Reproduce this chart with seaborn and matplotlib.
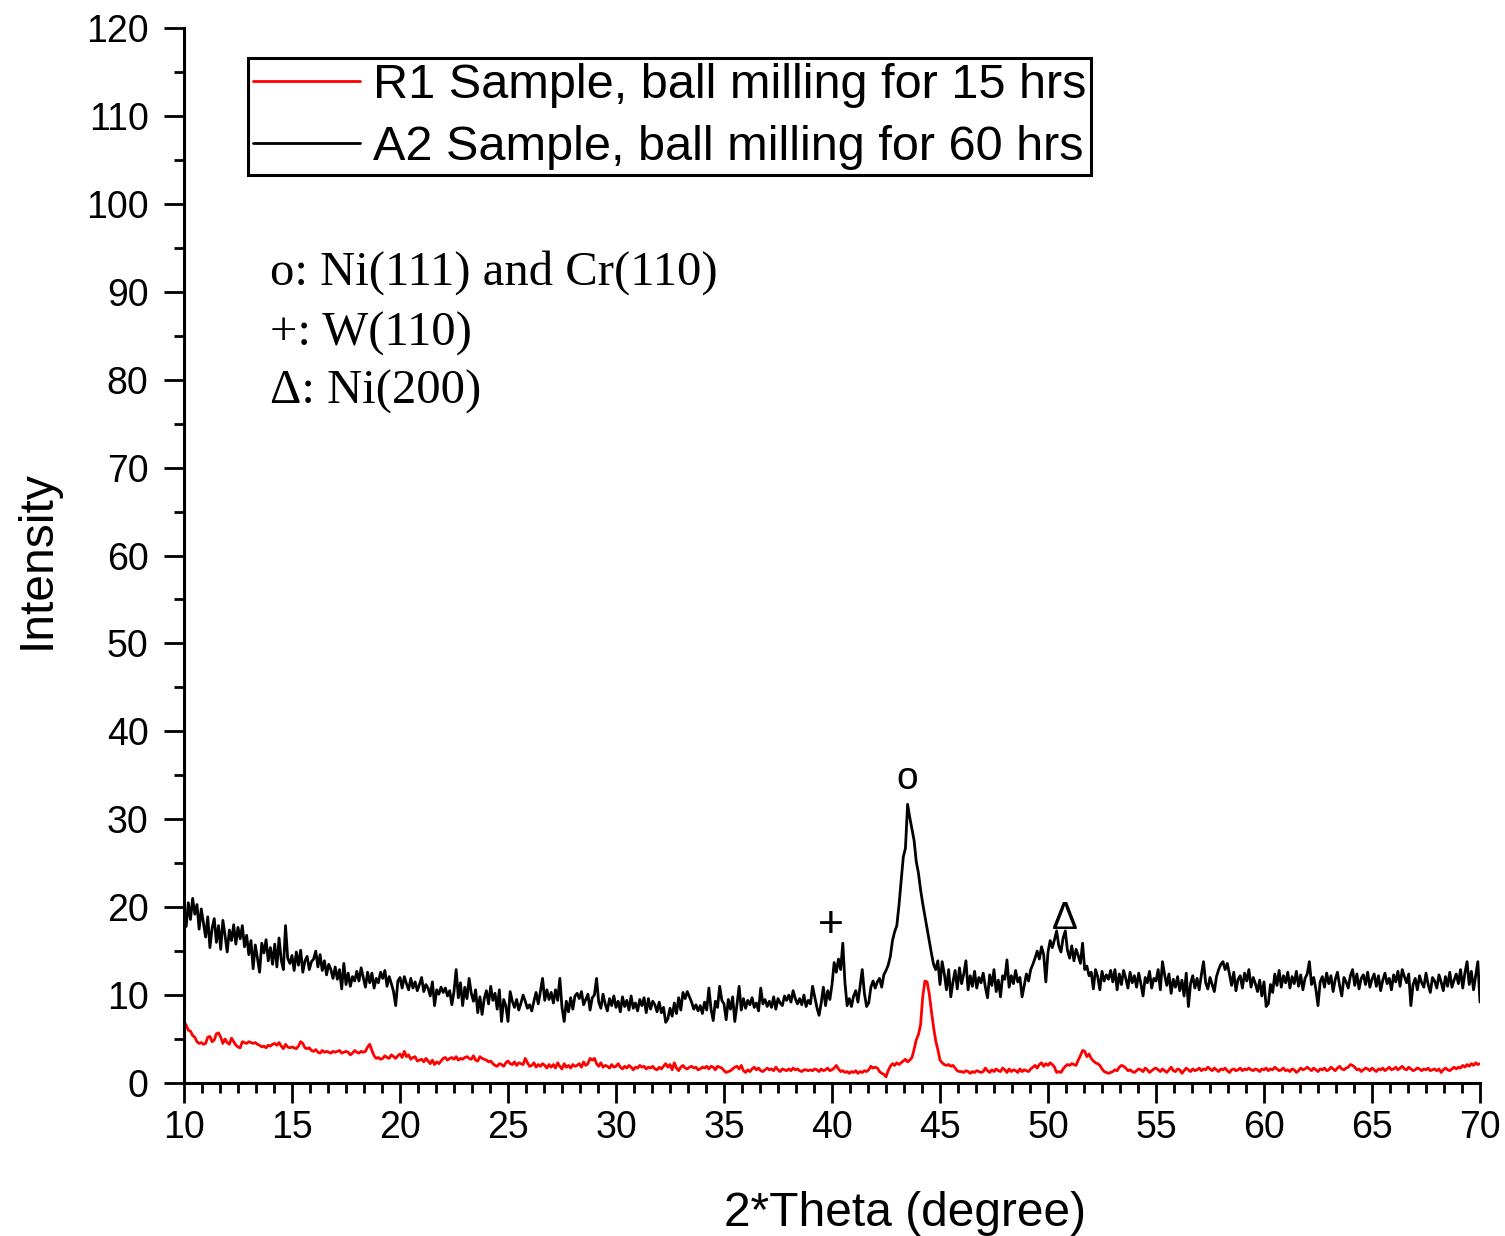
import numpy as np
import pandas as pd
import matplotlib
matplotlib.use("Agg")
import matplotlib.pyplot as plt
from matplotlib.ticker import MultipleLocator
import seaborn as sns

# ---- XRD scans, 2-theta step 0.1 deg, 10.0 ... 70.0 ----
a2_10_20 = [
    19.5, 17.8, 20.5, 18.6, 21.0, 19.2, 20.3, 17.5, 19.8, 18.2,
    16.6, 18.9, 15.4, 17.6, 18.7, 16.0, 17.9, 15.2, 18.5, 16.8,
    14.9, 17.4, 16.2, 18.0, 15.8, 17.7, 16.4, 17.9, 15.5, 16.8,
    14.6, 16.2, 13.0, 15.7, 14.2, 12.6, 15.9, 14.8, 16.3, 13.9,
    15.4, 13.5, 15.8, 13.2, 16.5, 14.0, 12.9, 17.9, 14.2, 13.6,
    14.5, 12.8, 14.9, 13.4, 15.1, 12.6, 13.9, 14.4, 12.9, 13.8,
    14.1, 15.0, 13.2, 14.6, 12.8, 13.9, 12.3, 13.5, 12.9, 11.9,
    13.2, 11.8, 12.9, 10.7, 13.6, 11.2, 12.5, 11.0, 12.1, 11.6,
    12.7, 11.6, 13.1, 12.0, 10.9, 12.6, 11.4, 12.5, 10.8, 11.9,
    11.4, 12.6, 11.9, 12.8, 11.0, 12.1, 11.3, 10.4, 8.8, 11.6,
]
a2_20_30 = [
    12.0, 10.8, 12.1, 11.3, 10.6, 11.9, 10.8, 11.5, 10.5, 11.2,
    12.0, 10.4, 11.2, 10.8, 9.9, 11.5, 8.8, 10.6, 10.1, 10.9,
    10.3, 10.8, 9.9, 10.5, 8.9, 10.4, 12.9, 9.7, 11.4, 8.8,
    10.9, 9.6, 11.9, 10.2, 9.3, 10.6, 8.0, 9.8, 7.8, 9.6,
    10.5, 9.0, 11.0, 9.4, 10.2, 8.4, 10.6, 7.0, 9.5, 8.8,
    7.0, 10.4, 9.3, 8.6, 9.5, 8.3, 9.1, 10.0, 9.3, 8.5,
    8.9, 8.2, 9.3, 10.3, 9.0, 10.4, 11.9, 9.4, 10.6, 9.5,
    10.3, 9.1, 10.6, 9.4, 11.9, 8.6, 7.0, 9.3, 8.1, 9.7,
    8.4, 9.9, 10.2, 9.6, 10.4, 8.9, 9.5, 10.1, 8.3, 9.7,
    10.0, 11.9, 9.2, 8.5, 10.1, 9.0, 8.2, 9.6, 8.8, 9.9,
]
a2_30_40 = [
    8.6, 9.3, 8.1, 9.8, 8.7, 9.4, 8.3, 9.9, 8.5, 9.1,
    8.2, 9.5, 8.8, 9.7, 8.0, 9.6, 8.4, 9.3, 8.9, 8.1,
    9.2, 8.0, 8.6, 6.9, 7.3, 8.5, 7.6, 9.1, 7.9, 9.7,
    8.3, 10.3, 9.6, 10.4, 9.8, 9.2, 8.4, 8.9, 8.2, 8.8,
    7.9, 9.2, 8.3, 10.8, 8.4, 7.1, 9.3, 8.6, 11.0, 9.4,
    9.0, 7.2, 9.5, 8.4, 9.8, 7.0, 8.9, 11.0, 8.3, 9.6,
    8.5, 9.4, 8.9, 9.7, 8.6, 9.1, 8.2, 10.8, 9.0, 9.5,
    8.7, 9.3, 8.6, 9.8, 8.4, 9.6, 9.1, 8.8, 9.9, 9.4,
    10.0, 9.2, 10.5, 9.6, 9.0, 9.6, 8.9, 10.0, 8.7, 9.4,
    9.0, 11.0, 9.8, 8.6, 7.7, 9.1, 10.9, 8.8, 10.5, 9.5,
]
a2_40_50 = [
    11.2, 13.7, 12.6, 14.1, 12.9, 15.9, 11.4, 8.8, 9.6, 8.7,
    9.9, 10.5, 9.2, 11.0, 12.9, 10.2, 8.7, 9.1, 10.9, 11.6,
    10.8, 11.5, 11.9, 10.9, 12.3, 12.8, 13.4, 14.4, 16.2, 17.2,
    17.9, 20.2, 22.9, 25.7, 26.7, 31.7, 30.2, 28.9, 27.6, 25.2,
    23.9, 22.0, 20.4, 19.0, 17.6, 16.2, 14.8, 13.5, 12.9, 13.9,
    11.2, 13.8, 12.4, 10.6, 12.9, 9.8, 11.5, 12.8, 10.7, 13.1,
    11.3, 12.4, 13.9, 10.6, 12.2, 11.0, 12.7, 10.8, 12.0, 11.4,
    12.5, 10.9, 9.7, 12.3, 11.1, 12.9, 10.4, 11.7, 9.8, 12.2,
    11.8, 14.0, 10.9, 12.2, 11.3, 12.8, 11.5, 12.0, 9.8, 11.1,
    12.4, 11.6, 12.9, 13.5, 14.2, 15.0, 14.1, 15.5, 14.6, 11.5,
]
a2_50_60 = [
    14.9, 16.2, 15.4, 16.3, 17.3, 15.6, 14.9, 16.5, 17.3, 15.1,
    14.2, 15.6, 13.9, 15.2, 14.5, 13.6, 15.9, 12.9, 13.3, 12.2,
    12.6, 10.7, 12.9, 12.1, 10.6, 12.7, 11.6, 12.3, 11.8, 12.8,
    11.5, 12.9, 10.6, 12.4, 11.2, 12.8, 11.9, 10.8, 12.6, 11.4,
    12.2, 10.9, 12.5, 11.3, 9.9, 12.0, 11.4, 12.7, 10.8, 11.9,
    11.6, 12.9, 10.6, 13.8, 12.3, 11.1, 12.4, 10.2, 11.8, 10.9,
    12.1, 10.5, 11.7, 9.9, 12.5, 8.7, 11.3, 12.2, 10.8, 11.9,
    10.6, 12.3, 13.8, 11.4, 10.7, 12.0, 11.2, 10.4, 12.1, 12.9,
    13.5, 13.8, 12.9, 13.6, 12.4, 11.1, 12.6, 10.5, 11.8, 12.2,
    10.8, 12.5, 11.6, 12.9, 10.9, 12.0, 11.3, 10.4, 11.7, 9.9,
]
a2_60_70 = [
    11.5, 8.7, 9.0, 11.2, 10.3, 12.4, 11.1, 12.8, 10.9, 12.2,
    11.4, 12.6, 10.8, 12.1, 11.3, 12.7, 11.0, 12.3, 10.6, 11.9,
    12.4, 13.8, 11.2, 12.0, 10.7, 8.8, 11.5, 12.1, 10.9, 12.5,
    11.3, 12.2, 10.4, 11.8, 12.6, 11.1, 9.9, 12.0, 11.5, 10.8,
    12.2, 12.9, 11.1, 12.4, 10.7, 11.9, 12.3, 11.2, 12.6, 10.9,
    11.8, 12.4, 11.0, 12.2, 10.5, 11.7, 12.5, 11.3, 11.9, 10.6,
    12.3, 11.5, 12.7, 11.0, 12.9, 12.1, 11.4, 12.4, 8.8, 11.2,
    11.9, 10.6, 12.2, 11.4, 10.9, 12.5, 11.2, 10.3, 12.0, 11.6,
    10.8, 12.3, 11.5, 10.5, 12.1, 11.0, 12.6, 10.9, 11.7, 12.4,
    11.3, 12.9, 10.8, 12.5, 13.8, 11.2, 12.7, 10.6, 12.2, 13.8,
    9.2,
]

r1_10_20 = [
    6.9, 6.6, 6.0, 5.9, 5.4, 5.2, 4.7, 4.5, 4.6, 4.4,
    4.5, 5.2, 5.3, 4.7, 4.9, 5.6, 5.7, 5.2, 4.5, 5.0,
    4.6, 4.4, 5.1, 4.7, 4.3, 4.1, 4.0, 4.7, 4.6, 4.5,
    4.7, 4.6, 4.5, 4.6, 4.4, 4.3, 4.1, 4.2, 4.0, 4.3,
    4.2, 4.4, 4.5, 4.3, 4.6, 4.2, 3.9, 4.4, 4.1, 4.0,
    4.1, 4.0, 3.9, 4.2, 4.7, 4.5, 4.0, 3.9, 4.0, 3.7,
    3.6, 3.8, 3.5, 3.4, 3.7, 3.5, 3.6, 3.5, 3.4, 3.6,
    3.5, 3.6, 3.7, 3.4, 3.5, 3.6, 3.5, 3.2, 3.4, 3.7,
    3.5, 3.4, 3.6, 3.5, 3.6, 4.1, 4.4, 3.7, 3.1, 2.8,
    2.9, 2.7, 2.8, 3.1, 2.9, 2.8, 3.2, 3.0, 2.8, 3.1,
]
r1_20_30 = [
    3.3, 2.9, 3.6, 3.0, 3.2, 2.7, 2.9, 3.0, 2.5, 2.6,
    2.7, 2.4, 2.8, 2.5, 2.2, 2.6, 2.1, 2.4, 2.2, 2.5,
    2.8, 2.9, 2.6, 2.8, 2.9, 2.7, 3.0, 2.6, 2.8, 2.7,
    2.9, 3.0, 2.8, 2.7, 3.1, 2.6, 2.5, 3.0, 2.8, 2.7,
    2.6, 2.4, 2.5, 2.2, 2.0, 1.9, 2.2, 2.1, 1.9, 2.3,
    2.5, 2.2, 2.1, 2.4, 2.0, 2.3, 2.2, 2.1, 2.8, 2.3,
    1.9, 2.0, 2.3, 1.8, 2.1, 1.9, 2.2, 2.0, 1.7, 2.1,
    1.8, 2.1, 1.7, 2.3, 1.9, 1.6, 2.2, 1.8, 2.0, 1.7,
    2.1, 1.9, 2.0, 2.2, 1.8, 2.4, 2.0, 2.2, 2.8, 2.6,
    2.8, 2.2, 1.9, 2.3, 1.8, 2.0, 1.9, 1.7, 2.1, 1.8,
]
r1_30_40 = [
    1.9, 2.2, 1.8, 1.6, 1.9, 1.7, 2.0, 1.8, 1.5, 1.8,
    1.7, 2.0, 1.8, 1.9, 1.6, 1.8, 1.7, 1.9, 1.6, 1.5,
    1.8, 1.6, 1.9, 2.2, 1.8, 2.1, 1.5, 2.3, 1.7, 1.4,
    1.8, 2.0, 1.7, 1.6, 1.8, 1.9, 1.7, 1.8, 1.5, 1.6,
    1.8, 1.7, 1.9, 1.6, 1.9, 1.8, 1.5, 1.9, 1.8, 1.7,
    1.4, 1.2, 1.3, 1.4, 1.6, 1.8, 1.9, 1.6, 2.0, 1.4,
    1.2, 1.5, 1.3, 1.6, 1.8, 1.5, 1.7, 1.4, 1.3, 1.5,
    1.7, 1.5, 1.6, 1.4, 1.8, 1.5, 1.3, 1.6, 1.5, 1.4,
    1.6, 1.4, 1.7, 1.5, 1.6, 1.4, 1.3, 1.5, 1.5, 1.4,
    1.5, 1.4, 1.6, 1.5, 1.3, 1.6, 1.4, 1.5, 1.7, 1.4,
]
r1_40_50 = [
    1.5, 1.7, 2.0, 1.6, 1.3, 1.4, 1.2, 1.3, 1.1, 1.3,
    1.2, 1.4, 1.1, 1.3, 1.2, 1.4, 1.3, 1.5, 1.9, 1.7,
    1.8, 1.7, 1.3, 1.1, 1.0, 0.7, 1.4, 1.9, 2.2, 2.0,
    2.3, 2.1, 2.3, 2.5, 2.7, 2.4, 2.6, 2.9, 3.8, 4.9,
    5.5, 6.6, 9.8, 11.6, 11.5, 10.2, 8.2, 6.4, 4.8, 3.8,
    2.6, 2.3, 2.1, 2.0, 2.1, 1.9, 2.0, 1.7, 1.4, 1.3,
    1.3, 1.2, 1.4, 1.3, 1.1, 1.3, 1.2, 1.4, 1.3, 1.2,
    1.3, 1.7, 1.4, 1.2, 1.5, 1.3, 1.6, 1.4, 1.3, 1.7,
    1.5, 1.2, 1.6, 1.3, 1.5, 1.4, 1.2, 1.6, 1.3, 1.5,
    1.4, 1.3, 1.6, 1.8, 2.0, 1.7, 2.1, 2.3, 1.9, 2.2,
]
r1_50_60 = [
    2.0, 2.3, 2.1, 1.8, 1.2, 1.3, 1.2, 1.6, 1.9, 2.1,
    2.0, 2.2, 2.1, 2.0, 2.6, 3.1, 3.7, 3.6, 3.0, 3.3,
    2.8, 2.5, 2.3, 2.2, 2.0, 1.6, 1.3, 1.2, 1.1, 1.2,
    1.3, 1.5, 1.4, 1.8, 2.0, 1.9, 1.7, 1.4, 1.5, 1.3,
    1.2, 1.4, 1.6, 1.5, 1.3, 1.7, 1.5, 1.2, 1.4, 1.6,
    1.7, 1.5, 1.3, 1.6, 1.4, 1.2, 1.5, 1.8, 1.4, 1.3,
    1.6, 1.5, 1.1, 1.4, 1.7, 1.5, 1.3, 1.6, 1.4, 1.5,
    1.7, 1.4, 1.6, 1.5, 1.8, 1.6, 1.4, 1.7, 1.5, 1.3,
    1.6, 1.5, 1.7, 1.4, 1.2, 1.5, 1.6, 1.4, 1.5, 1.7,
    1.4, 1.6, 1.5, 1.7, 1.5, 1.4, 1.6, 1.5, 1.3, 1.6,
]
r1_60_70 = [
    1.5, 1.7, 1.4, 1.6, 1.5, 1.8, 1.6, 1.4, 1.5, 1.7,
    1.4, 1.5, 1.3, 1.6, 1.5, 1.2, 1.4, 1.7, 1.5, 1.6,
    1.8, 1.6, 1.4, 1.7, 1.5, 1.3, 1.6, 1.5, 1.7, 1.4,
    1.5, 1.8, 1.6, 1.4, 1.7, 1.9, 1.6, 1.5, 1.7, 1.8,
    2.1, 2.0, 1.8, 1.5, 1.6, 1.3, 1.5, 1.7, 1.6, 1.4,
    1.7, 1.5, 1.3, 1.6, 1.5, 1.7, 1.4, 1.6, 1.8, 1.5,
    1.6, 1.8, 1.5, 1.7, 1.9, 1.6, 1.5, 1.8, 1.6, 1.4,
    1.5, 1.7, 1.6, 1.4, 1.6, 1.5, 1.7, 1.4, 1.5, 1.6,
    1.4, 1.6, 1.2, 1.5, 1.7, 1.5, 1.4, 1.6, 1.8, 1.6,
    1.8, 1.7, 2.0, 1.8, 2.1, 1.9, 2.2, 2.0, 2.3, 2.1,
    2.2,
]

label_r1 = "R1 Sample, ball milling for 15 hrs"
label_a2 = "A2 Sample, ball milling for 60 hrs"
peak_notes = ["o: Ni(111) and Cr(110)", "+: W(110)", "\u0394: Ni(200)"]
peak_marks = ["o", "+", "\u0394"]
peak_pos = [(43.5, 33.4), (39.95, 16.6), (50.8, 17.5)]

a2 = np.array(a2_10_20 + a2_20_30 + a2_30_40 + a2_40_50 + a2_50_60 + a2_60_70)
r1 = np.array(r1_10_20 + r1_20_30 + r1_30_40 + r1_40_50 + r1_50_60 + r1_60_70)
theta_a2 = np.round(np.linspace(10.0, 70.0, len(a2)), 2)
theta_r1 = np.round(np.linspace(10.0, 70.0, len(r1)), 2)

df = pd.concat([
    pd.DataFrame({"theta": theta_r1, "intensity": r1, "sample": label_r1}),
    pd.DataFrame({"theta": theta_a2, "intensity": a2, "sample": label_a2}),
], ignore_index=True)

sns.set_theme(style="ticks")
plt.rcParams["font.family"] = ["Liberation Sans", "DejaVu Sans"]
plt.rcParams["text.color"] = "black"

fig = plt.figure(figsize=(15.05, 12.36), dpi=100)
ax = fig.add_axes([184 / 1505, 1 - 1083 / 1236, (1480 - 184) / 1505, (1083 - 28) / 1236])

sns.lineplot(data=df, x="theta", y="intensity", hue="sample",
             hue_order=[label_r1, label_a2],
             palette={label_r1: "#ff0000", label_a2: "#000000"},
             estimator=None, linewidth=2.0, ax=ax)

ax.set_xlim(10, 70)
ax.set_ylim(0, 120)
ax.xaxis.set_major_locator(MultipleLocator(5))
ax.xaxis.set_minor_locator(MultipleLocator(5 / 6))
ax.yaxis.set_major_locator(MultipleLocator(10))
ax.yaxis.set_minor_locator(MultipleLocator(5))

for side in ("top", "right"):
    ax.spines[side].set_visible(False)
for side in ("left", "bottom"):
    ax.spines[side].set_linewidth(2.2)
    ax.spines[side].set_color("black")

ax.tick_params(axis="both", which="major", direction="out", length=14.5,
               width=2.0, color="black", labelsize=27, labelcolor="black")
ax.tick_params(axis="both", which="minor", direction="out", length=7.5,
               width=2.0, color="black")
ax.tick_params(axis="y", which="major", pad=11)
ax.tick_params(axis="x", which="major", pad=5)

ax.set_xlabel("2*Theta (degree)", fontsize=34.5, color="black")
ax.xaxis.label.set_va("baseline")
ax.xaxis.set_label_coords((905 - 184) / 1296, (1083 - 1226) / 1055)
ax.set_ylabel("Intensity", fontsize=34.5, color="black")
ax.yaxis.label.set_va("baseline")
ax.yaxis.set_label_coords((50 - 184) / 1296, (1083 - 560) / 1055)

handles, labels = ax.get_legend_handles_labels()
leg = ax.legend(handles, labels, loc="upper left",
                bbox_to_anchor=(248 / 1505, 1 - 58 / 1236),
                bbox_transform=fig.transFigure, borderaxespad=0,
                fontsize=35, frameon=True, fancybox=False, framealpha=1,
                edgecolor="black", borderpad=0.1, labelspacing=0.36,
                handlelength=2.2, handletextpad=0.27)
leg.get_frame().set_linewidth(2.2)
for text in leg.get_texts():
    text.set_color("black")
for line in leg.get_lines():
    line.set_linewidth(2.0)

note_y = [285, 346, 404]
for txt, yb in zip(peak_notes, note_y):
    fig.text(270 / 1505, 1 - yb / 1236, txt, fontsize=35,
             family=["Liberation Serif", "DejaVu Serif"],
             ha="left", va="baseline", color="black")

for mark, (px, py) in zip(peak_marks, peak_pos):
    ax.text(px, py, mark, fontsize=28 if mark != "+" else 32,
            ha="center", va="baseline", color="black")

fig.savefig("out.png", dpi=100, facecolor="white")
